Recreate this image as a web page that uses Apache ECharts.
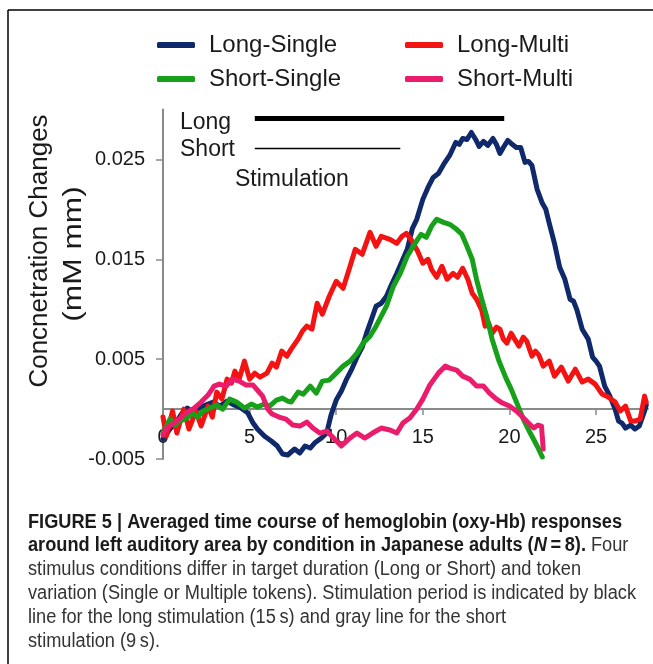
<!DOCTYPE html>
<html>
<head>
<meta charset="utf-8">
<script src="https://cdn.jsdelivr.net/npm/echarts@6/dist/echarts.min.js"></script>
<style>
  html, body { margin: 0; padding: 0; background: #fff; }
  #chart { width: 653px; height: 664px; }
</style>
</head>
<body>
<div id="chart"></div>
<script>
// axis ticks
const xTicks = [0, 5, 10, 15, 20, 25]
const yTicks = [-0.005, 0.005, 0.015, 0.025]

// [time (s), oxy-Hb change (mM mm)]
const longSingle = [
  [0, -0.0030], [0.4, -0.0020], [0.8, -0.0012], [1.1, -0.0004], [1.4, 0.0001], [1.7, -0.0003],
  [2.2, 0.0002], [2.6, 0.0005], [2.9, 0.0007], [3.3, 0.0003], [3.7, 0.0008], [4.1, 0.0004],
  [4.5, 0.0001], [4.9, -0.0004], [5.2, -0.0014], [5.45, -0.0020], [5.85, -0.0027], [6.25, -0.0032],
  [6.6, -0.0037], [6.9, -0.0045], [7.2, -0.0046], [7.6, -0.0040], [7.9, -0.0044], [8.2, -0.0037],
  [8.5, -0.0039], [8.75, -0.0034], [9.15, -0.0029], [9.45, -0.0024], [9.7, -0.0006], [10.0, 0.0009],
  [10.3, 0.0018], [10.6, 0.0030], [10.9, 0.0040], [11.2, 0.0052], [11.5, 0.0062], [11.75, 0.0076],
  [12.0, 0.0088], [12.3, 0.0103], [12.6, 0.0106], [12.9, 0.0113], [13.2, 0.0125], [13.5, 0.0136],
  [13.8, 0.0148], [14.1, 0.0160], [14.4, 0.0181], [14.65, 0.0190], [15.0, 0.0210], [15.3, 0.0222],
  [15.6, 0.0232], [15.9, 0.0236], [16.2, 0.0245], [16.55, 0.0254], [16.9, 0.0267], [17.1, 0.0265],
  [17.3, 0.0271], [17.55, 0.0270], [17.8, 0.0277], [18.05, 0.0270], [18.25, 0.0263], [18.5, 0.0268],
  [18.75, 0.0264], [19.05, 0.0271], [19.25, 0.0265], [19.45, 0.0256], [19.65, 0.0262], [19.9, 0.0269],
  [20.1, 0.0266], [20.4, 0.0262], [20.65, 0.0262], [20.9, 0.0247], [21.1, 0.0248], [21.3, 0.0244],
  [21.6, 0.0220], [21.9, 0.0206], [22.1, 0.0200], [22.3, 0.0186], [22.6, 0.0166], [22.9, 0.0142],
  [23.2, 0.0130], [23.5, 0.0110], [23.7, 0.0108], [23.9, 0.0099], [24.2, 0.0080], [24.55, 0.0070],
  [24.8, 0.0052], [25.0, 0.0048], [25.2, 0.0043], [25.5, 0.0023], [25.8, 0.0013], [26.1, 0.0000],
  [26.3, -0.0012], [26.5, -0.0014], [26.7, -0.0019], [27.0, -0.0016], [27.25, -0.0020], [27.5, -0.0017],
  [27.8, -0.0002], [27.9, 0.0004]
]

const longMulti = [
  [0, -0.0008], [0.2, -0.0027], [0.55, -0.0002], [0.8, -0.0024], [1.2, 0.0000], [1.5, -0.0020],
  [1.9, -0.0002], [2.2, -0.0017], [2.6, 0.0003], [2.85, -0.0008], [3.1, 0.0017], [3.4, 0.0010],
  [3.7, 0.0030], [3.95, 0.0026], [4.15, 0.0038], [4.4, 0.0030], [4.7, 0.0048], [5.0, 0.0030],
  [5.3, 0.0036], [5.6, 0.0032], [6.0, 0.0036], [6.3, 0.0046], [6.55, 0.0042], [6.85, 0.0058],
  [7.15, 0.0053], [7.4, 0.0060], [7.8, 0.0070], [8.05, 0.0078], [8.3, 0.0083], [8.6, 0.0080],
  [8.9, 0.0106], [9.2, 0.0095], [9.6, 0.0113], [10.0, 0.0128], [10.4, 0.0121], [10.8, 0.0143],
  [11.1, 0.0160], [11.5, 0.0155], [11.95, 0.0177], [12.3, 0.0163], [12.6, 0.0173], [13.1, 0.0170],
  [13.5, 0.0166], [13.8, 0.0173], [14.05, 0.0176], [14.35, 0.0169], [14.7, 0.0158], [15.0, 0.0146],
  [15.3, 0.0150], [15.5, 0.0140], [15.8, 0.0132], [16.1, 0.0143], [16.4, 0.0130], [16.75, 0.0136],
  [17.0, 0.0132], [17.3, 0.0141], [17.6, 0.0130], [17.85, 0.0116], [18.1, 0.0110], [18.4, 0.0099],
  [18.6, 0.0083], [18.8, 0.0086], [19.0, 0.0076], [19.25, 0.0082], [19.45, 0.0080], [19.65, 0.0070],
  [19.85, 0.0066], [20.1, 0.0076], [20.3, 0.0070], [20.55, 0.0063], [20.8, 0.0072], [21.0, 0.0068],
  [21.3, 0.0053], [21.5, 0.0058], [21.7, 0.0054], [21.95, 0.0043], [22.3, 0.0048], [22.6, 0.0033],
  [23.0, 0.0042], [23.4, 0.0028], [23.8, 0.0040], [24.2, 0.0027], [24.55, 0.0030], [24.95, 0.0025],
  [25.35, 0.0015], [25.7, 0.0012], [26.1, 0.0007], [26.4, -0.0002], [26.7, 0.0003], [27.0, -0.0012],
  [27.25, -0.0012], [27.55, -0.0010], [27.8, 0.0013], [27.9, 0.0007]
]

const shortSingle = [
  [0, -0.0024], [0.4, -0.0010], [0.7, -0.0016], [0.95, -0.0012], [1.4, -0.0009], [1.7, -0.0004],
  [2.0, -0.0008], [2.3, -0.0002], [2.6, 0.0000], [3.1, 0.0004], [3.45, 0.0000], [3.85, 0.0010],
  [4.25, 0.0007], [4.7, 0.0001], [5.1, 0.0005], [5.45, 0.0002], [5.85, 0.0005], [6.15, 0.0003],
  [6.55, 0.0009], [6.9, 0.0011], [7.2, 0.0008], [7.4, 0.0007], [7.8, 0.0017], [8.1, 0.0015],
  [8.5, 0.0023], [8.85, 0.0016], [9.2, 0.0028], [9.6, 0.0029], [10.0, 0.0036], [10.4, 0.0043],
  [10.8, 0.0048], [11.2, 0.0056], [11.55, 0.0066], [11.95, 0.0073], [12.3, 0.0083], [12.6, 0.0093],
  [12.9, 0.0103], [13.3, 0.0123], [13.7, 0.0136], [14.1, 0.0153], [14.45, 0.0163], [14.7, 0.0170],
  [14.9, 0.0175], [15.2, 0.0172], [15.5, 0.0183], [15.8, 0.0190], [16.2, 0.0187], [16.55, 0.0185],
  [16.95, 0.0180], [17.25, 0.0175], [17.55, 0.0163], [17.85, 0.0150], [18.1, 0.0130], [18.4, 0.0110],
  [18.7, 0.0092], [19.0, 0.0070], [19.4, 0.0048], [19.8, 0.0031], [20.1, 0.0020], [20.5, 0.0003],
  [20.8, -0.0010], [21.2, -0.0024], [21.6, -0.0037], [21.9, -0.0048]
]

const shortMulti = [
  [0, -0.0026], [0.25, -0.0018], [0.65, -0.0014], [1.05, -0.0008], [1.4, -0.0003], [1.8, 0.0001],
  [2.2, 0.0007], [2.6, 0.0014], [2.95, 0.0023], [3.25, 0.0025], [3.65, 0.0023], [4.0, 0.0030],
  [4.4, 0.0028], [4.8, 0.0024], [5.2, 0.0024], [5.45, 0.0019], [5.75, 0.0013], [6.05, 0.0000],
  [6.3, -0.0005], [6.7, -0.0008], [7.1, -0.0010], [7.5, -0.0016], [7.9, -0.0017], [8.3, -0.0013],
  [8.65, -0.0019], [9.05, -0.0024], [9.45, -0.0022], [9.9, -0.0030], [10.3, -0.0037], [10.8, -0.0029],
  [11.2, -0.0024], [11.65, -0.0029], [12.1, -0.0024], [12.6, -0.0019], [13.1, -0.0021], [13.5, -0.0024],
  [13.85, -0.0014], [14.25, -0.0009], [14.65, 0.0000], [15.0, 0.0010], [15.4, 0.0024], [15.9, 0.0036],
  [16.3, 0.0043], [16.55, 0.0041], [16.95, 0.0039], [17.3, 0.0033], [17.7, 0.0030], [18.1, 0.0023],
  [18.5, 0.0023], [18.85, 0.0016], [19.25, 0.0010], [19.6, 0.0006], [20.0, 0.0003], [20.4, -0.0002],
  [20.7, -0.0007], [21.1, -0.0014], [21.4, -0.0019], [21.65, -0.0016], [21.85, -0.0017], [21.95, -0.0040]
]

// stimulation periods (bars drawn above the curves)
const stimLong = [[5.3, 0.0291], [19.7, 0.0291]]
const stimShort = [[5.3, 0.0261], [13.7, 0.0261]]

const captionLines = [
  [{ t: 'FIGURE 5 | Averaged time course of hemoglobin (oxy-Hb) responses', s: 'b' }],
  [{ t: 'around left auditory area by condition in Japanese adults (', s: 'b' }, { t: 'N', s: 'bi' }, { t: '\u2009=\u20098).', s: 'b' }, { t: ' Four', s: 'n' }],
  [{ t: 'stimulus conditions differ in target duration (Long or Short) and token', s: 'n' }],
  [{ t: 'variation (Single or Multiple tokens). Stimulation period is indicated by black', s: 'n' }],
  [{ t: 'line for the long stimulation (15\u2009s) and gray line for the short', s: 'n' }],
  [{ t: 'stimulation (9\u2009s).', s: 'n' }]
]

const chart = echarts.init(document.getElementById('chart'))
const FONT = '"Liberation Sans", Arial, sans-serif'

const curve = (name, data, color) => ({
  name: name,
  type: 'line',
  data: data,
  showSymbol: false,
  symbol: 'none',
  lineStyle: { color: color, width: 5, cap: 'round', join: 'round' },
  itemStyle: { color: color },
  silent: true,
  z: 3
})

const bar = (data, width) => ({
  type: 'line',
  data: data,
  symbol: 'none',
  lineStyle: { color: '#000', width: width },
  silent: true,
  z: 4
})

const legendBase = {
  orient: 'vertical',
  top: 28,
  icon: 'roundRect',
  itemWidth: 38,
  itemHeight: 6,
  itemGap: 10,
  selectedMode: false,
  textStyle: { fontFamily: FONT, fontSize: 24, color: '#1a1a1a', padding: [0, 0, 0, 9] }
}

const caption = captionLines.map((parts, i) => ({
  type: 'text',
  x: 28,
  y: 522 + i * 23.8,
  scaleX: 0.91,
  style: {
    text: parts.map(p => '{' + p.s + '|' + p.t + '}').join(''),
    textVerticalAlign: 'middle',
    rich: {
      b: { fontFamily: FONT, fontSize: 20, fontWeight: 'bold', fill: '#1a1a1a' },
      bi: { fontFamily: FONT, fontSize: 20, fontWeight: 'bold', fontStyle: 'italic', fill: '#1a1a1a' },
      n: { fontFamily: FONT, fontSize: 20, fill: '#333' }
    }
  }
}))

const option = {
  animation: false,
  backgroundColor: '#fff',
  grid: { left: 163, right: 5, top: 109.5, bottom: 205 },
  legend: [
    Object.assign({}, legendBase, { left: 152, data: ['Long-Single', 'Short-Single'] }),
    Object.assign({}, legendBase, { left: 400, data: ['Long-Multi', 'Short-Multi'] })
  ],
  xAxis: {
    type: 'value',
    min: 0,
    max: 28,
    axisLine: { onZero: true, lineStyle: { color: '#8a8a8a', width: 2 } },
    axisTick: { customValues: xTicks, length: 6, lineStyle: { color: '#8a8a8a', width: 1.5 } },
    axisLabel: { customValues: xTicks, margin: -32, fontFamily: FONT, fontSize: 20, color: '#1a1a1a' },
    splitLine: { show: false }
  },
  yAxis: {
    type: 'value',
    min: -0.005,
    max: 0.030,
    axisLine: { show: true, lineStyle: { color: '#8a8a8a', width: 2 } },
    axisTick: { customValues: yTicks, length: 7, lineStyle: { color: '#8a8a8a', width: 1.5 } },
    axisLabel: { customValues: yTicks, margin: 18, fontFamily: FONT, fontSize: 20, color: '#1a1a1a' },
    splitLine: { show: false }
  },
  graphic: [
    { type: 'line', shape: { x1: 8, y1: 10, x2: 653, y2: 10 }, style: { stroke: '#000', lineWidth: 1.5 } },
    { type: 'line', shape: { x1: 8, y1: 10, x2: 8, y2: 664 }, style: { stroke: '#000', lineWidth: 1.5 } },
    { type: 'text', x: 40, y: 251, rotation: Math.PI / 2,
      style: { text: 'Concnetration Changes', fontFamily: FONT, fontSize: 26, fill: '#1a1a1a', textAlign: 'center', textVerticalAlign: 'middle' } },
    { type: 'text', x: 74, y: 254, rotation: Math.PI / 2, scaleX: 1.22,
      style: { text: '(mM mm)', fontFamily: FONT, fontSize: 26, fill: '#1a1a1a', textAlign: 'center', textVerticalAlign: 'middle' } },
    { type: 'text', x: 180, y: 123,
      style: { text: 'Long', fontFamily: FONT, fontSize: 23, fill: '#1a1a1a', textVerticalAlign: 'middle' } },
    { type: 'text', x: 180, y: 150,
      style: { text: 'Short', fontFamily: FONT, fontSize: 23, fill: '#1a1a1a', textVerticalAlign: 'middle' } },
    { type: 'text', x: 235, y: 180,
      style: { text: 'Stimulation', fontFamily: FONT, fontSize: 23, fill: '#1a1a1a', textVerticalAlign: 'middle' } }
  ].concat(caption),
  series: [
    curve('Long-Single', longSingle, '#10296b'),
    curve('Long-Multi', longMulti, '#f41313'),
    curve('Short-Single', shortSingle, '#17a019'),
    curve('Short-Multi', shortMulti, '#ec1c6c'),
    bar(stimLong, 5),
    bar(stimShort, 1.5)
  ]
}

chart.setOption(option)
</script>
</body>
</html>
